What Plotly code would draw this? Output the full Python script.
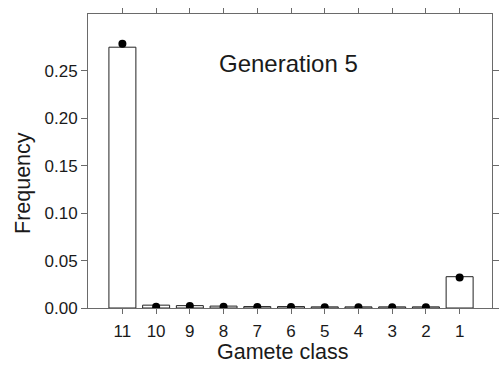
import plotly.graph_objects as go

# Gamete classes, in plotting order
gamete_class = ["11", "10", "9", "8", "7", "6", "5", "4", "3", "2", "1"]
# Observed frequencies (bars) and expected frequencies (dots)
bar_freq = [0.275, 0.003, 0.0025, 0.002, 0.0015, 0.0015, 0.0012, 0.0012, 0.0012, 0.0012, 0.033]
dot_freq = [0.2785, 0.0012, 0.0022, 0.0012, 0.001, 0.001, 0.0008, 0.0008, 0.0008, 0.0008, 0.0322]
y_ticks = [0.00, 0.05, 0.10, 0.15, 0.20, 0.25]

font_family = "Liberation Sans, Arial, sans-serif"
axis_color = "#6a6a6a"
text_color = "#1a1a1a"

fig = go.Figure()
fig.add_trace(go.Bar(
    x=gamete_class, y=bar_freq, width=0.8,
    marker=dict(color="white", line=dict(color="#222222", width=1)),
    showlegend=False,
))
fig.add_trace(go.Scatter(
    x=gamete_class, y=dot_freq, mode="markers",
    marker=dict(color="black", size=8),
    showlegend=False,
))

# Panel label and axis titles
fig.add_annotation(
    text="Generation 5", x=0.496, y=0.884, xref="paper", yref="paper",
    showarrow=False, font=dict(size=24, color=text_color, family=font_family),
)
fig.add_annotation(
    text="Frequency", x=-0.161, y=0.425, xref="paper", yref="paper",
    textangle=-90, xanchor="center", yanchor="middle", showarrow=False,
    font=dict(size=21.5, color=text_color, family=font_family),
)
fig.add_annotation(
    text="Gamete class", x=0.482, y=-0.194, xref="paper", yref="paper",
    xanchor="center", yanchor="bottom", showarrow=False, borderpad=0,
    font=dict(size=21.5, color=text_color, family=font_family),
)

fig.update_xaxes(
    type="category", range=[-1.02, 10.96],
    showline=True, linecolor=axis_color, linewidth=1, mirror="ticks",
    ticks="outside", ticklen=5, tickcolor=axis_color, ticklabelstandoff=3,
    showgrid=False, zeroline=False,
    tickfont=dict(size=17, color=text_color, family=font_family),
)
fig.update_yaxes(
    range=[0, 0.31], tickvals=y_ticks, ticktext=[f"{v:.2f}" for v in y_ticks],
    showline=True, linecolor=axis_color, linewidth=1, mirror="ticks",
    ticks="outside", ticklen=6, tickcolor=axis_color,
    showgrid=False, zeroline=False,
    tickfont=dict(size=17, color=text_color, family=font_family),
)

fig.update_layout(
    width=500, height=365,
    margin=dict(l=88, r=1, t=14, b=57),
    paper_bgcolor="white", plot_bgcolor="white",
    bargap=0.2,
)

fig.write_html("out.html")
